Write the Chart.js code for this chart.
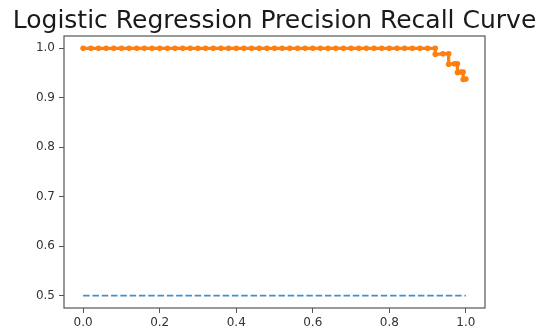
<!DOCTYPE html>
<html>
<head>
<meta charset="utf-8">
<script src="https://cdn.jsdelivr.net/npm/chart.js@4/dist/chart.umd.min.js"></script>
<style>
  html, body { margin: 0; padding: 0; background: #ffffff; }
  canvas { display: block; }
</style>
</head>
<body>
<canvas id="pr" width="541" height="329"></canvas>
<script>
// Precision-recall curve of the logistic regression model
const modelRecall = [
  0.00, 0.02, 0.04, 0.06, 0.08, 0.10, 0.12, 0.14, 0.16, 0.18,
  0.20, 0.22, 0.24, 0.26, 0.28, 0.30, 0.32, 0.34, 0.36, 0.38,
  0.40, 0.42, 0.44, 0.46, 0.48, 0.50, 0.52, 0.54, 0.56, 0.58,
  0.60, 0.62, 0.64, 0.66, 0.68, 0.70, 0.72, 0.74, 0.76, 0.78,
  0.80, 0.82, 0.84, 0.86, 0.88, 0.90, 0.92,
  0.92, 0.94, 0.955,
  0.955, 0.97, 0.978,
  0.978, 0.987, 0.993,
  0.993, 1.00
];
const modelPrecision = [
  1.000, 1.000, 1.000, 1.000, 1.000, 1.000, 1.000, 1.000, 1.000, 1.000,
  1.000, 1.000, 1.000, 1.000, 1.000, 1.000, 1.000, 1.000, 1.000, 1.000,
  1.000, 1.000, 1.000, 1.000, 1.000, 1.000, 1.000, 1.000, 1.000, 1.000,
  1.000, 1.000, 1.000, 1.000, 1.000, 1.000, 1.000, 1.000, 1.000, 1.000,
  1.000, 1.000, 1.000, 1.000, 1.000, 1.000, 1.000,
  0.988, 0.989, 0.989,
  0.968, 0.969, 0.969,
  0.951, 0.952, 0.952,
  0.937, 0.938
];

// No-skill baseline (share of positive class)
const baselineRecall = [0.0, 1.0];
const baselinePrecision = [0.5, 0.5];

// Axis ticks
const xTicks = [0.0, 0.2, 0.4, 0.6, 0.8, 1.0];
const yTicks = [0.5, 0.6, 0.7, 0.8, 0.9, 1.0];

const chartTitle = 'Logistic Regression Precision Recall Curve';

const toPoints = (xs, ys) => xs.map((x, i) => ({ x: x, y: ys[i] }));

// Frame around the plot area plus the centred title
const framePlugin = {
  id: 'frame',
  afterDraw(chart) {
    const { ctx, chartArea: a } = chart;
    ctx.save();
    ctx.strokeStyle = '#555555';
    ctx.lineWidth = 1.2;
    ctx.strokeRect(a.left, a.top, a.right - a.left, a.bottom - a.top);
    ctx.fillStyle = '#1a1a1a';
    ctx.font = '25px "DejaVu Sans"';
    ctx.textAlign = 'center';
    ctx.textBaseline = 'alphabetic';
    ctx.fillText(chartTitle, (a.left + a.right) / 2, 28);
    ctx.restore();
  }
};

const tickFont = { family: 'DejaVu Sans', size: 12 };

new Chart(document.getElementById('pr'), {
  type: 'scatter',
  data: {
    datasets: [
      {
        data: toPoints(baselineRecall, baselinePrecision),
        showLine: true,
        borderColor: '#4090cc',
        borderWidth: 1.8,
        borderDash: [6.5, 2.8],
        pointRadius: 0,
        fill: false
      },
      {
        data: toPoints(modelRecall, modelPrecision),
        showLine: true,
        borderColor: '#ff7f0e',
        backgroundColor: '#ff7f0e',
        borderWidth: 3.2,
        pointRadius: 2.8,
        pointBorderWidth: 0,
        pointBackgroundColor: '#ff7f0e',
        fill: false
      }
    ]
  },
  options: {
    responsive: false,
    devicePixelRatio: 1,
    animation: false,
    events: [],
    layout: { padding: { left: 0, right: 56, top: 36, bottom: 0 } },
    plugins: {
      legend: { display: false },
      title: { display: false },
      tooltip: { enabled: false }
    },
    scales: {
      x: {
        type: 'linear',
        min: -0.05,
        max: 1.05,
        afterBuildTicks(scale) { scale.ticks = xTicks.map(v => ({ value: v })); },
        afterFit(scale) { scale.height = 21; },
        border: { display: false },
        grid: { drawOnChartArea: false, drawTicks: true, tickLength: 5, tickColor: '#555555', tickWidth: 1 },
        ticks: {
          font: tickFont,
          color: '#333333',
          padding: 3,
          maxRotation: 0,
          callback: v => v.toFixed(1)
        }
      },
      y: {
        type: 'linear',
        min: 0.475,
        max: 1.025,
        afterBuildTicks(scale) { scale.ticks = yTicks.map(v => ({ value: v })); },
        afterFit(scale) { scale.width = 64; },
        border: { display: false },
        grid: { drawOnChartArea: false, drawTicks: true, tickLength: 5, tickColor: '#555555', tickWidth: 1 },
        ticks: {
          font: tickFont,
          color: '#333333',
          padding: 4,
          callback: v => v.toFixed(1)
        }
      }
    }
  },
  plugins: [framePlugin]
});
</script>
</body>
</html>
